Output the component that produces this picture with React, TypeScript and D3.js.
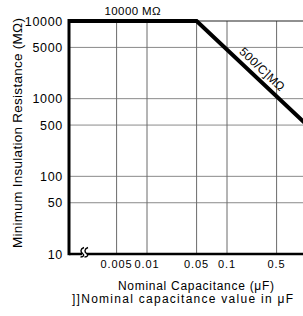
import React from "react";
import * as d3 from "d3";

// ---- data ----
const xGrid = [0.005, 0.01, 0.05, 0.1, 0.5, 1];
const xTicks = [0.005, 0.01, 0.05, 0.1, 0.5];
const xTickLabels = ["0.005", "0.01", "0.05", "0.1", "0.5"];
const yTicks = [10, 50, 100, 500, 1000, 5000, 10000];
const yTickLabels = ["10", "50", "100", "500", "1000", "5000", "10000"];
// limit curve: flat 10000 MΩ up to 0.05 µF, then 500/C MΩ
const limitC = [0.00106, 0.05, 1];
const limitR = [10000, 10000, 500];
const flatLabel = "10000 MΩ";
const slopeLabel = "500/C]MΩ";
const yTitle = "Minimum Insulation Resistance (MΩ)";
const xTitle = "Nominal Capacitance (μF)";
const xNote = "]]Nominal capacitance value in μF";

const W = 303;
const H = 316;
const FONT = "'Liberation Sans', Arial, Helvetica, sans-serif";

// the chart spaces "5" at a fixed fraction of each decade
function warp(v: number, f5: number) {
  const l = Math.log10(v);
  const d = Math.floor(l + 1e-9);
  const m = l - d;
  return d + d3.scaleLinear().domain([0, Math.log10(5), 1]).range([0, f5, 1])(m);
}

export default function App() {
  const xs = d3.scaleLinear().domain([-2.975, 0]).range([69, 307]);
  const ys = d3.scaleLinear().domain([1, 4]).range([254, 21]);
  const X = (c: number) => xs(warp(c, 0.62));
  const Y = (r: number) => ys(warp(r, 0.66));
  const left = xs.range()[0];
  const bottom = ys.range()[0];
  const top = Y(10000);

  const pts = limitC.map((c, i) => [X(c), Y(limitR[i])] as [number, number]);
  const lineGen = d3.line();
  const p1 = pts[1];
  const p2 = pts[2];
  const ang = (Math.atan2(p2[1] - p1[1], p2[0] - p1[0]) * 180) / Math.PI;
  const labC = 0.25;
  const labPt: [number, number] = [X(labC), Y(500 / labC)];

  const bx = 81;
  const by = bottom;
  const sPath = (x0: number) =>
    `M${x0 + 3},${by - 6.5} C${x0 - 1},${by - 5} ${x0 - 0.5},${by - 2} ${x0 + 1.5},${by - 0.5} S${x0 + 3},${by + 3} ${x0 - 0.5},${by + 3}`;

  return (
    <svg
      width={W}
      height={H}
      style={{ position: "absolute", left: 0, top: 0, background: "#fff" }}
      fontFamily={FONT}
    >
      <rect width={W} height={H} fill="#fff" />
      {/* horizontal grid */}
      {yTicks.filter((t) => t !== 10 && t !== 10000).map((t) => (
        <line key={"hy" + t} x1={left} x2={W} y1={Y(t)} y2={Y(t)} stroke="#8a8a8a" strokeWidth={1} />
      ))}
      {/* vertical grid */}
      {xGrid.map((t) => (
        <line key={"vx" + t} x1={X(t)} x2={X(t)} y1={top} y2={bottom} stroke="#6a6a6a" strokeWidth={1} />
      ))}
      {/* top border */}
      <line x1={left} x2={W} y1={top} y2={top} stroke="#222" strokeWidth={1.2} />
      {/* limit line */}
      <path d={lineGen(pts) || ""} fill="none" stroke="#000" strokeWidth={4} strokeLinejoin="miter" />
      {/* axes */}
      <line x1={left} x2={W} y1={bottom} y2={bottom} stroke="#000" strokeWidth={2.5} />
      <line x1={left} x2={left} y1={top - 2} y2={bottom + 1.2} stroke="#000" strokeWidth={3} />
      {/* axis break */}
      <rect x={bx + 1} y={by - 3} width={5} height={6} fill="#fff" />
      <path d={sPath(bx)} fill="none" stroke="#000" strokeWidth={1.4} />
      <path d={sPath(bx + 4)} fill="none" stroke="#000" strokeWidth={1.4} />
      {/* y tick labels */}
      {yTicks.map((t, i) => (
        <text key={"yl" + t} x={63} y={Y(t)} dy="0.36em" textAnchor="end" fontSize={12.5} letterSpacing={0.7} fill="#000">
          {yTickLabels[i]}
        </text>
      ))}
      {/* x tick labels */}
      {xTicks.map((t, i) => (
        <text key={"xl" + t} x={X(t)} y={268} textAnchor="middle" fontSize={11} letterSpacing={0.9} fill="#000">
          {xTickLabels[i]}
        </text>
      ))}
      {/* line labels */}
      <text x={(left + p1[0]) / 2} y={top - 6} textAnchor="middle" fontSize={11.5} letterSpacing={0.4} fill="#000">
        {flatLabel}
      </text>
      <text
        transform={`translate(${labPt[0]},${labPt[1]}) rotate(${ang})`}
        dy={-6}
        textAnchor="middle"
        fontSize={12}
        letterSpacing={0.4}
        fill="#000"
      >
        {slopeLabel}
      </text>
      {/* titles */}
      <text
        transform={`translate(22,133) rotate(-90)`}
        textAnchor="middle"
        fontSize={13.5}
        textLength={230}
        lengthAdjust="spacing"
        fill="#000"
      >
        {yTitle}
      </text>
      <text x={196} y={290} textAnchor="middle" fontSize={12} textLength={156} lengthAdjust="spacing" fill="#000">
        {xTitle}
      </text>
      <text x={182.5} y={303} textAnchor="middle" fontSize={12} textLength={221} lengthAdjust="spacing" fill="#000">
        {xNote}
      </text>
    </svg>
  );
}
